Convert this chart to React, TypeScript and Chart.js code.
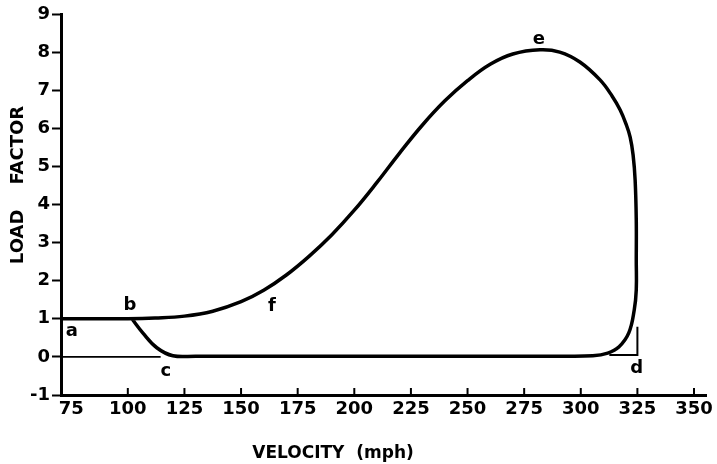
import React, { useEffect, useRef } from "react";
import { Chart, registerables } from "chart.js";

Chart.register(...registerables);

// Velocity tick labels (mph)
const xTicks = [75, 100, 125, 150, 175, 200, 225, 250, 275, 300, 325, 350];
// Load factor tick labels
const yTicks = [-1, 0, 1, 2, 3, 4, 5, 6, 7, 8, 9];

// Main V-n loop (velocity mph, load factor)
const curveVelocity = [
  70.5, 85, 100, 112, 125, 137.5, 150, 160, 170, 180, 190, 200, 210, 220, 230,
  240, 250, 260, 270, 282, 290.7, 299.6, 308.5, 313.8, 317.4, 320, 321.8, 323.1,
  324, 324.5, 324.5, 324.5, 323.6, 321.2, 316.8, 311.9, 305.3, 290, 240, 180,
  130, 119.9, 112.8, 106.6, 101.8,
];
const curveLoad = [
  1.0, 1.0, 1.0, 1.02, 1.07, 1.2, 1.45, 1.75, 2.15, 2.64, 3.2, 3.85, 4.58,
  5.35, 6.08, 6.72, 7.25, 7.68, 7.95, 8.06, 8.0, 7.74, 7.27, 6.85, 6.48, 6.11,
  5.77, 5.3, 4.64, 3.59, 2.54, 1.76, 1.23, 0.63, 0.26, 0.1, 0.03, 0.02, 0.02,
  0.02, 0.02, 0.03, 0.24, 0.63, 1.0,
];

// Thin zero line on the left
const zeroLineVelocity = [70.5, 114.5];
const zeroLineLoad = [0, 0];

// Bracket at d
const bracketVelocity = [312.6, 325, 325];
const bracketLoad = [0.05, 0.05, 0.79];

// Point letters
const letterText = ["a", "b", "c", "d", "e", "f"];
const letterVelocity = [75.3, 100.9, 116.8, 324.7, 281.5, 163.6];
const letterLoad = [0.66, 1.36, -0.37, -0.31, 8.34, 1.34];

const FONT = "'DejaVu Sans', sans-serif";

const toPts = (xs: number[], ys: number[]) => xs.map((x, i) => ({ x, y: ys[i] }));

const decorPlugin = {
  id: "decor",
  afterDraw(chart: any) {
    const ctx = chart.ctx;
    const xs = chart.scales.x;
    const ys = chart.scales.y;
    const area = chart.chartArea;
    ctx.save();
    // inward x tick marks
    ctx.strokeStyle = "#000";
    ctx.lineWidth = 2;
    xTicks.forEach((v) => {
      if (v === 75) return;
      const px = xs.getPixelForValue(v);
      ctx.beginPath();
      ctx.moveTo(px, area.bottom);
      ctx.lineTo(px, area.bottom - 7);
      ctx.stroke();
    });
    // letters
    ctx.fillStyle = "#000";
    ctx.font = `bold 18px ${FONT}`;
    ctx.textAlign = "center";
    ctx.textBaseline = "middle";
    letterText.forEach((t, i) => {
      ctx.fillText(t, xs.getPixelForValue(letterVelocity[i]), ys.getPixelForValue(letterLoad[i]));
    });
    // axis titles
    ctx.font = `bold 17px ${FONT}`;
    ctx.textBaseline = "alphabetic";
    ctx.fillText("VELOCITY  (mph)", 333, 458);
    ctx.font = `bold 18px ${FONT}`;
    ctx.translate(23, 185);
    ctx.rotate(-Math.PI / 2);
    ctx.fillText("LOAD    FACTOR", 0, 0);
    ctx.restore();
  },
};

export default function App() {
  const ref = useRef<HTMLCanvasElement | null>(null);
  useEffect(() => {
    if (!ref.current) return;
    const chart = new Chart(ref.current, {
      type: "scatter",
      data: {
        datasets: [
          {
            data: toPts(curveVelocity, curveLoad),
            showLine: true,
            borderColor: "#000",
            borderWidth: 3.5,
            pointRadius: 0,
            tension: 0.4,
            fill: false,
          },
          {
            data: toPts(zeroLineVelocity, zeroLineLoad),
            showLine: true,
            borderColor: "#000",
            borderWidth: 1.8,
            pointRadius: 0,
            tension: 0,
          },
          {
            data: toPts(bracketVelocity, bracketLoad),
            showLine: true,
            borderColor: "#000",
            borderWidth: 2,
            pointRadius: 0,
            tension: 0,
          },
        ],
      },
      options: {
        animation: false,
        responsive: true,
        maintainAspectRatio: false,
        layout: { padding: { left: 0, top: 14, right: 10, bottom: 0 } },
        plugins: { legend: { display: false }, tooltip: { enabled: false } },
        scales: {
          x: {
            type: "linear",
            min: 70.5,
            max: 355.5,
            afterBuildTicks: (s: any) => {
              s.ticks = xTicks.map((v) => ({ value: v }));
            },
            afterFit: (s: any) => {
              s.height = 69;
            },
            ticks: {
              color: "#000",
              font: { family: FONT, size: 18, weight: "bold" },
              padding: 4,
              maxRotation: 0,
              autoSkip: false,
            },
            grid: { drawOnChartArea: false, drawTicks: false },
            border: { display: true, color: "#000", width: 3 },
          },
          y: {
            type: "linear",
            min: -1,
            max: 9,
            afterBuildTicks: (s: any) => {
              s.ticks = yTicks.map((v) => ({ value: v }));
            },
            afterFit: (s: any) => {
              s.width = 61;
            },
            ticks: {
              color: "#000",
              font: { family: FONT, size: 18, weight: "bold" },
              padding: 2,
              autoSkip: false,
            },
            grid: {
              drawOnChartArea: false,
              drawTicks: true,
              tickLength: 9,
              tickColor: "#000",
              tickWidth: 2,
            },
            border: { display: true, color: "#000", width: 3 },
          },
        },
      },
      plugins: [decorPlugin],
    } as any);
    return () => chart.destroy();
  }, []);
  return (
    <div style={{ position: "fixed", left: 0, top: 0, width: 717, height: 464, background: "#fff" }}>
      <canvas ref={ref} />
    </div>
  );
}
